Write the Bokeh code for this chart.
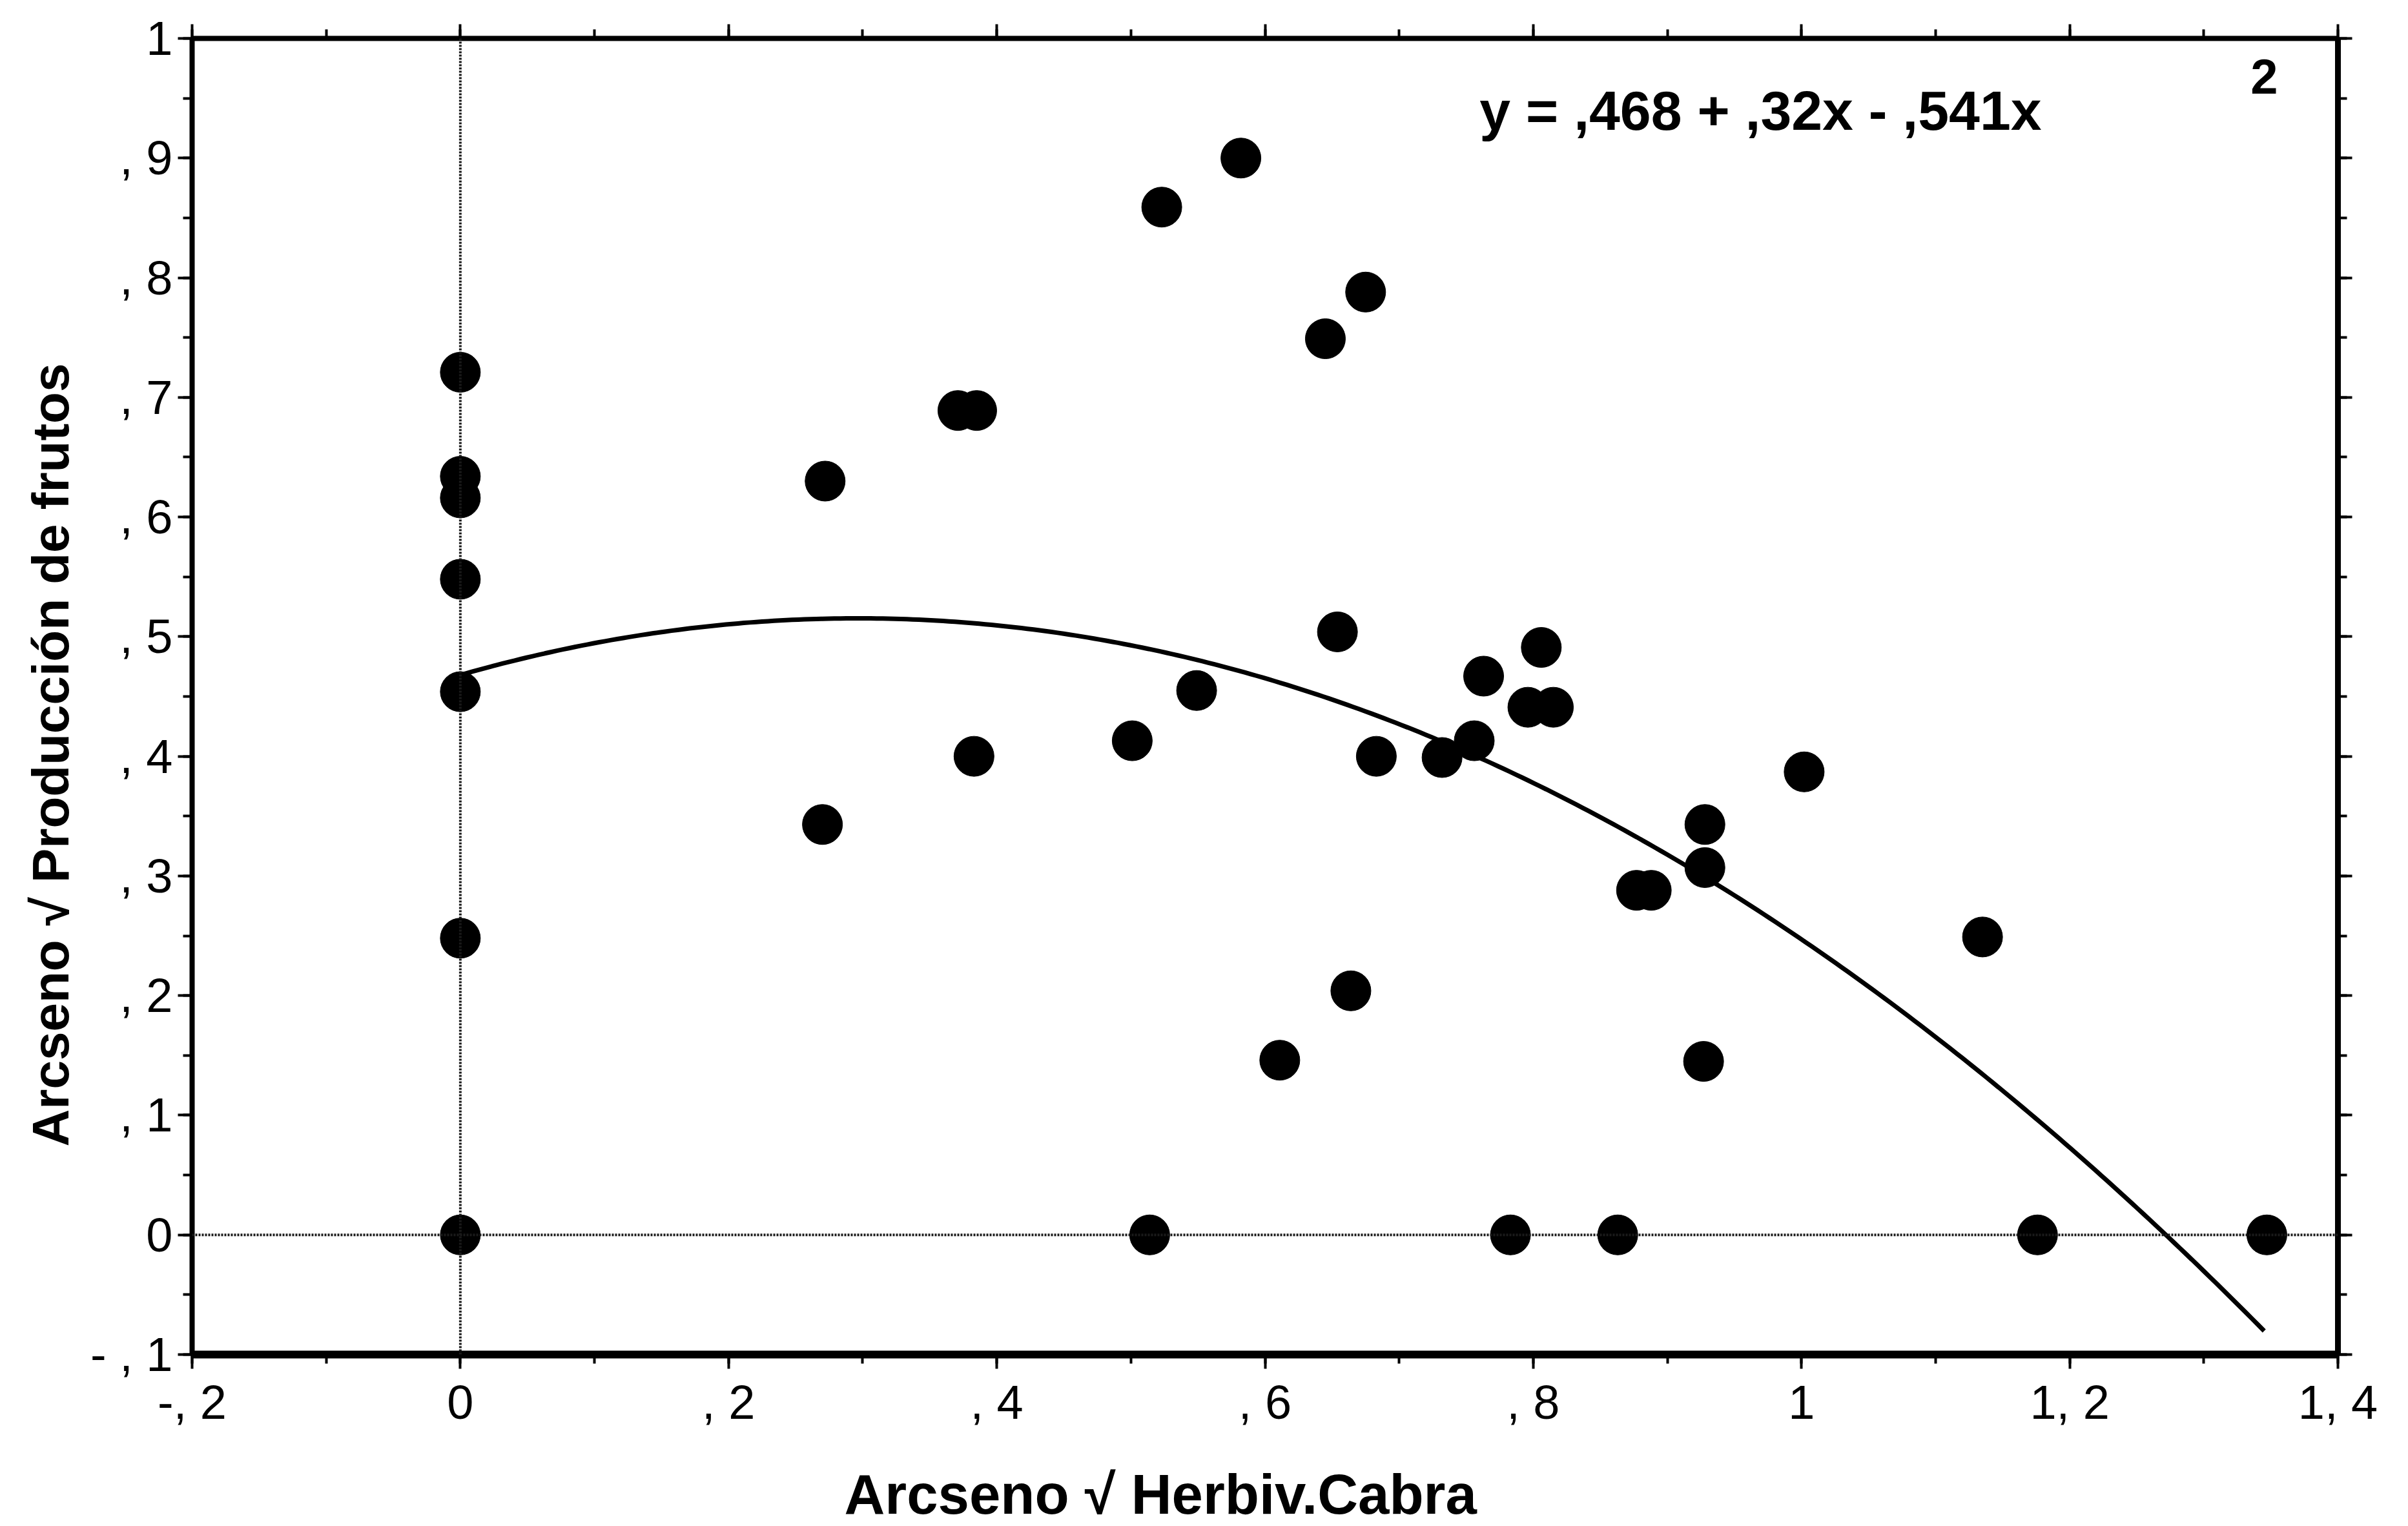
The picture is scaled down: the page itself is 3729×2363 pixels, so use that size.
import numpy as np
from bokeh.plotting import figure
from bokeh.models import Range1d, FixedTicker, LinearAxis, Span, Label, Title
from bokeh.embed import file_html
from bokeh.resources import INLINE

# Arcsine-sqrt transformed goat herbivory (x) and fruit production (y)
herbiv = [0.0, 0.0, 0.0, 0.0, 0.0, 0.0, 0.0,
          0.272, 0.270, 0.371, 0.385, 0.383, 0.501, 0.523, 0.514,
          0.549, 0.582, 0.611, 0.645, 0.654, 0.664, 0.675, 0.683,
          0.732, 0.756, 0.763, 0.796, 0.815, 0.806, 0.783, 0.863,
          0.877, 0.888, 0.928, 0.928, 0.927, 1.002, 1.135, 1.176, 1.347]
frutos = [0.721, 0.634, 0.616, 0.548, 0.454, 0.248, 0.0,
          0.630, 0.343, 0.689, 0.689, 0.400, 0.413, 0.859, 0.0,
          0.455, 0.900, 0.146, 0.749, 0.504, 0.204, 0.788, 0.400,
          0.399, 0.413, 0.467, 0.441, 0.441, 0.491, 0.0, 0.0,
          0.288, 0.288, 0.343, 0.307, 0.145, 0.387, 0.249, 0.0, 0.0]

# Quadratic fit: y = b0 + b1*x + b2*x^2
b0, b1, b2 = 0.468, 0.32, -0.541
fit_x_start, fit_x_end = 0.0, 1.345

x_ticks = [-0.2, 0.0, 0.2, 0.4, 0.6, 0.8, 1.0, 1.2, 1.4]
x_tick_labels = ["-, 2", "0", ", 2", ", 4", ", 6", ", 8", "1", "1, 2", "1, 4"]
x_minor = [-0.2, -0.1, 0.0, 0.1, 0.2, 0.3, 0.4, 0.5, 0.6, 0.7, 0.8, 0.9,
           1.0, 1.1, 1.2, 1.3, 1.4]
y_ticks = [-0.1, 0.0, 0.1, 0.2, 0.3, 0.4, 0.5, 0.6, 0.7, 0.8, 0.9, 1.0]
y_tick_labels = ["- , 1", "0", ", 1", ", 2", ", 3", ", 4", ", 5", ", 6",
                 ", 7", ", 8", ", 9", "1"]
y_minor = [-0.1, -0.05, 0.0, 0.05, 0.1, 0.15, 0.2, 0.25, 0.3, 0.35, 0.4,
           0.45, 0.5, 0.55, 0.6, 0.65, 0.7, 0.75, 0.8, 0.85, 0.9, 0.95, 1.0]

x_title = "Arcseno \u221a Herbiv.Cabra"
y_title = "Arcseno \u221a Producci\u00f3n de frutos"
equation = "y = ,468 + ,32x - ,541x"
exponent = "2"

FONT = "Liberation Sans"

p = figure(width=3729, height=2363,
           x_range=Range1d(-0.2, 1.4), y_range=Range1d(-0.1, 1.0),
           output_backend="svg", toolbar_location=None,
           min_border_left=297, min_border_right=109,
           min_border_top=59, min_border_bottom=266,
           background_fill_color="white", border_fill_color="white")
p.outline_line_color = None
p.xgrid.visible = False
p.ygrid.visible = False

def style_axis(ax, line_w):
    ax.axis_line_color = "black"
    ax.axis_line_width = line_w
    ax.major_tick_line_color = "black"
    ax.minor_tick_line_color = "black"
    ax.major_tick_line_width = 4
    ax.minor_tick_line_width = 4
    ax.major_tick_in = 0
    ax.minor_tick_in = 0
    ax.major_tick_out = 22
    ax.minor_tick_out = 14
    ax.major_label_text_font = FONT
    ax.major_label_text_font_size = "74px"
    ax.major_label_text_color = "black"

# bottom axis
xa = p.xaxis[0]
xa.ticker = FixedTicker(ticks=x_ticks, minor_ticks=x_minor)
xa.major_label_overrides = dict(zip(x_ticks, x_tick_labels))
style_axis(xa, 12)
xa.major_label_standoff = 10

# left axis
ya = p.yaxis[0]
ya.ticker = FixedTicker(ticks=y_ticks, minor_ticks=y_minor)
ya.major_label_overrides = dict(zip(y_ticks, y_tick_labels))
style_axis(ya, 8)
ya.major_label_standoff = 8

# top and right frame axes (ticks only)
top = LinearAxis(ticker=FixedTicker(ticks=x_ticks, minor_ticks=x_minor),
                 major_label_overrides={t: "" for t in x_ticks})
style_axis(top, 8)
p.add_layout(top, "above")

right = LinearAxis(ticker=FixedTicker(ticks=y_ticks, minor_ticks=y_minor),
                   major_label_overrides={t: "" for t in y_ticks})
style_axis(right, 9)
p.add_layout(right, "right")

# blank axis used as a gap between the tick labels and the x title
gap = LinearAxis(ticker=FixedTicker(ticks=[0.5], minor_ticks=[]),
                 major_label_overrides={0.5: ""},
                 major_label_text_font_size="0px", major_label_standoff=0,
                 axis_line_color=None,
                 major_tick_line_color=None, minor_tick_line_color=None,
                 major_tick_in=0, major_tick_out=46,
                 minor_tick_in=0, minor_tick_out=0)
p.add_layout(gap, "below")

# axis titles
p.add_layout(Title(text=x_title, align="left", offset=1010, standoff=2,
                   text_font=FONT, text_font_style="bold",
                   text_font_size="87px", text_color="black"), "below")
p.add_layout(Title(text=y_title, align="left", offset=322, standoff=30,
                   text_font=FONT, text_font_style="bold",
                   text_font_size="80px", text_color="black"), "left")

# zero reference lines
p.add_layout(Span(location=0, dimension="height", line_color="#1a1a1a",
                  line_width=4, line_dash="3 2"))
p.add_layout(Span(location=0, dimension="width", line_color="#1a1a1a",
                  line_width=4, line_dash="3 2"))

# fitted quadratic
fx = np.linspace(fit_x_start, fit_x_end, 300)
fy = b0 + b1 * fx + b2 * fx ** 2
p.line(fx, fy, line_color="black", line_width=7)

# observations
p.scatter(herbiv, frutos, size=62, fill_color="black", line_color="black")

# fit equation
p.add_layout(Label(x=0.760, y=0.940, text=equation, text_align="left",
                   text_baseline="middle", text_font=FONT,
                   text_font_style="bold", text_font_size="86px",
                   text_color="black"))
p.add_layout(Label(x=1.345, y=0.968, text=exponent, text_align="center",
                   text_baseline="middle", text_font=FONT,
                   text_font_style="bold", text_font_size="76px",
                   text_color="black"))

open("out.html", "w").write(file_html(p, INLINE))
